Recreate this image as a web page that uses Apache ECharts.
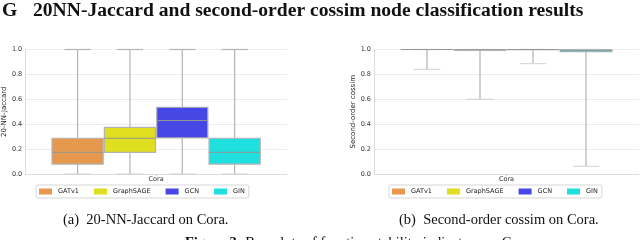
<!DOCTYPE html>
<html><head><meta charset="utf-8">
<script src="https://cdn.jsdelivr.net/npm/echarts@6/dist/echarts.min.js"></script>
<style>html,body{margin:0;padding:0;background:#fff}#c{width:640px;height:240px}</style>
</head><body><div id="c"></div>
<script>
const categories = ['Cora'];
const methods = ['GATv1', 'GraphSAGE', 'GCN', 'GIN'];
const colors = ['#e6994c', '#dfdf20', '#4747e6', '#20dfdf'];
// [min, q1, median, q3, max]
const jaccardBoxes = [
  [0.0, 0.08, 0.174, 0.287, 1.0],
  [0.0, 0.174, 0.287, 0.375, 1.0],
  [0.0, 0.29, 0.43, 0.536, 1.0],
  [0.0, 0.08, 0.174, 0.287, 1.0]
];
const cossimBoxes = [
  [0.841, 1.0, 1.0, 1.0, 1.0],
  [0.60, 0.994, 0.997, 1.0, 1.0],
  [0.886, 0.999, 1.0, 1.0, 1.0],
  [0.062, 0.982, 0.99, 1.0, 1.0]
];
const yTicks = [0, 0.2, 0.4, 0.6, 0.8, 1.0];
const yNames = ['20-NN-Jaccard', 'Second-order cossim'];
const captions = ['(a)  20-NN-Jaccard on Cora.', '(b)  Second-order cossim on Cora.'];

const chart = echarts.init(document.getElementById('c'), null, {renderer: 'canvas'});
const FONT = 'DejaVu Sans';
const edge = '#b3b3b3';

function makeRender(i) {
  return function (params, api) {
    const cat = api.value(0);
    const bw = api.size([1, 0])[0];
    const c0 = api.coord([cat, 0]);
    const cx = c0[0] + (i - 1.5) * 0.2 * bw;
    const hw = 0.1 * bw - 0.6, cw = 0.05 * bw;
    const y = k => api.coord([cat, api.value(k)])[1];
    const yMin = y(1), yQ1 = y(2), yMed = y(3), yQ3 = y(4), yMax = y(5);
    const ls = {stroke: edge, lineWidth: 1.2};
    return {
      type: 'group',
      children: [
        {type: 'line', shape: {x1: cx, y1: yQ3, x2: cx, y2: yMax}, style: ls},
        {type: 'line', shape: {x1: cx, y1: yQ1, x2: cx, y2: yMin}, style: ls},
        {type: 'line', shape: {x1: cx - cw, y1: yMax, x2: cx + cw, y2: yMax}, style: ls},
        {type: 'line', shape: {x1: cx - cw, y1: yMin, x2: cx + cw, y2: yMin}, style: {stroke: '#d0d0d0', lineWidth: 1}},
        {type: 'rect', shape: {x: cx - hw, y: yQ3, width: 2 * hw, height: Math.max(yQ1 - yQ3, 0.01)},
          style: {fill: colors[i], stroke: edge, lineWidth: 1.2}},
        {type: 'line', shape: {x1: cx - hw, y1: yMed, x2: cx + hw, y2: yMed}, style: {stroke: '#969696', lineWidth: 1}}
      ]
    };
  };
}

const grids = [
  {left: 23, right: 353, top: 49.5, bottom: 66},
  {left: 374, right: 1, top: 49.5, bottom: 66}
];
const xAxes = [], yAxes = [], series = [];
[jaccardBoxes, cossimBoxes].forEach((boxes, g) => {
  xAxes.push({
    type: 'category', gridIndex: g, data: categories,
    axisLine: {lineStyle: {color: '#dcdcdc', width: 1}},
    axisTick: {show: true, alignWithLabel: true, length: 2, lineStyle: {color: '#cfcfcf'}},
    axisLabel: {fontFamily: FONT, fontSize: 6.5, color: '#333', margin: 2},
    splitLine: {show: false}
  });
  yAxes.push({
    type: 'value', gridIndex: g, min: 0, max: 1, interval: 0.2,
    name: yNames[g], nameLocation: 'middle', nameGap: g === 0 ? 14 : 11,
    nameTextStyle: {fontFamily: FONT, fontSize: 7, color: '#222'},
    axisLine: {show: true, lineStyle: {color: '#dcdcdc', width: 1}},
    axisTick: {show: false},
    axisLabel: {fontFamily: FONT, fontSize: 6.5, color: '#333', margin: 3,
      formatter: v => yTicks.some(t => Math.abs(t - v) < 1e-9) ? v.toFixed(1) : ''},
    splitLine: {lineStyle: {color: '#ececec', width: 1}}
  });
  boxes.forEach((b, i) => {
    series.push({
      type: 'custom', name: methods[i], xAxisIndex: g, yAxisIndex: g,
      itemStyle: {color: colors[i]},
      renderItem: makeRender(i),
      encode: {x: 0, y: [1, 2, 3, 4, 5]},
      data: [[0].concat(b)]
    });
  });
});

const legendCommon = {
  data: methods.map(m => ({name: m, icon: 'rect'})),
  orient: 'horizontal', itemWidth: 13, itemHeight: 6, itemGap: 15,
  textStyle: {fontFamily: FONT, fontSize: 6.5, color: '#222', padding: [0, 0, 0, 1]},
  borderColor: '#d6d6d6', borderWidth: 1, borderRadius: 2, padding: [3, 4, 3, 3],
  backgroundColor: '#fff', selectedMode: false
};

const serifTitle = {fontFamily: 'Liberation Serif', fontWeight: 'bold', fontSize: 19.6, color: '#111'};
const serifCap = {fontFamily: 'Liberation Serif', fontWeight: 'normal', fontSize: 14.5, color: '#111'};

chart.setOption({
  animation: false,
  backgroundColor: '#fff',
  grid: grids,
  xAxis: xAxes,
  yAxis: yAxes,
  legend: [
    Object.assign({left: 36, top: 185}, legendCommon),
    Object.assign({left: 389, top: 185}, legendCommon)
  ],
  title: [
    {text: 'G', left: 2, top: 1, padding: 0, textStyle: serifTitle},
    {text: '20NN-Jaccard and second-order cossim node classification results', left: 33, top: 1, padding: 0, textStyle: serifTitle},
    {text: captions[0], left: 63, top: 213, padding: 0, textStyle: serifCap},
    {text: captions[1], left: 399, top: 213, padding: 0, textStyle: serifCap},
    {text: '{b|Figure 3:} Box plots of function stability indicators on Cora.', left: 185, top: 236, padding: 0,
      textStyle: Object.assign({}, serifCap, {rich: {b: {fontFamily: 'Liberation Serif', fontWeight: 'bold', fontSize: 14.5, color: '#111'}}})}
  ],
  series: series
});
</script></body></html>
